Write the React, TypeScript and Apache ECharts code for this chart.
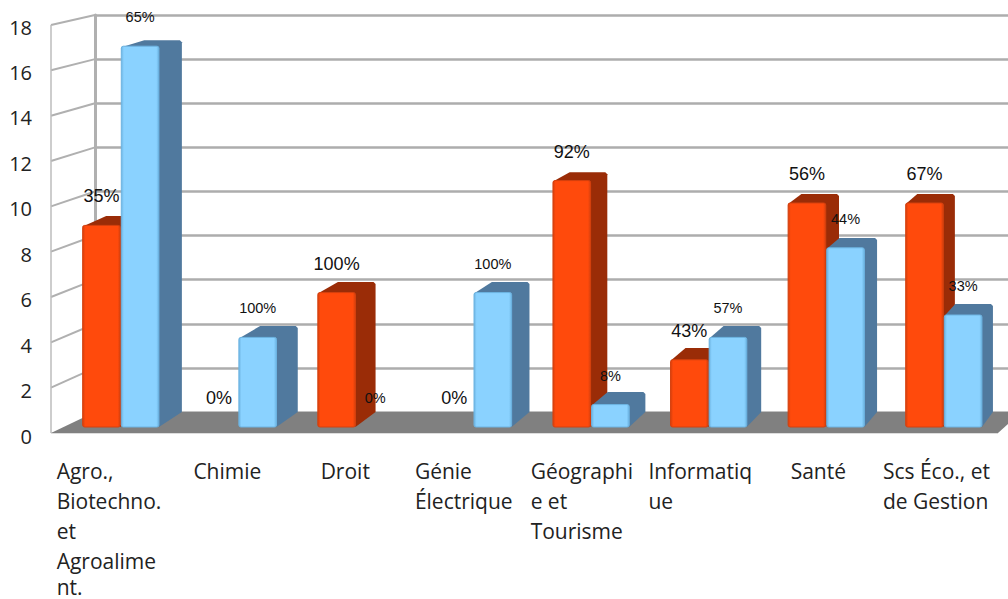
import React, { useEffect, useRef } from "react";
import * as echarts from "echarts";

const categories = [
  "Agro.,\nBiotechno.\net\nAgroalime\nnt.",
  "Chimie",
  "Droit",
  "Génie\nÉlectrique",
  "Géographi\ne et\nTourisme",
  "Informatiq\nue",
  "Santé",
  "Scs Éco., et\nde Gestion",
];
const redValues = [9, 0, 6, 0, 11, 3, 10, 10];
const blueValues = [17, 4, 0, 6, 1, 4, 8, 5];
const redPercents = ["35%", "0%", "100%", "0%", "92%", "43%", "56%", "67%"];
const bluePercents = ["65%", "100%", "0%", "100%", "8%", "57%", "44%", "33%"];
const yTicks = [0, 2, 4, 6, 8, 10, 12, 14, 16, 18];

const LABEL_FONT = '"Open Sans"';
const LABEL_SIZE = 21;

function measure(text: string) {
  const ctx = document.createElement("canvas").getContext("2d")!;
  ctx.font = `${LABEL_SIZE}px ${LABEL_FONT}`;
  return Math.ceil(ctx.measureText(text).width);
}

const rich: Record<string, any> = {};
categories.forEach((c, i) => {
  const base = {
    width: Math.max(...c.split("\n").map(measure)),
    align: "left",
    fontFamily: LABEL_FONT,
    fontSize: LABEL_SIZE,
    color: "#222222",
  };
  rich["c" + i] = { ...base, lineHeight: 30, height: 30 };
  rich["e" + i] = { ...base, lineHeight: 22, height: 22 };
});

const hGrad = (edge: string, main: string) =>
  new echarts.graphic.LinearGradient(0, 0, 1, 0, [
    { offset: 0, color: edge },
    { offset: 0.07, color: main },
    { offset: 0.93, color: main },
    { offset: 1, color: edge },
  ]);

function barRenderer(
  side: -1 | 1,
  percents: string[],
  main: string,
  edge: string,
  dark: string,
  labelSize: number
) {
  return (_p: any, api: any) => {
    const idx = api.value(0);
    const val = api.value(1);
    const [cx, top] = api.coord([idx, val]);
    const [, base] = api.coord([idx, 0]);
    const band = api.size([1, 0])[0];
    const w = band * 0.32;
    const x0 = side < 0 ? cx - w - 0.5 : cx + 0.5;
    const x1 = x0 + w;
    const cxBar = (x0 + x1) / 2;
    const children: any[] = [];
    if (val > 0) {
      const dx = 23 - ((x1 - 158) * 12) / 824;
      const dyTop = 6 + ((top - 46) * 7) / 381;
      const dyBase = 15;
      children.push({
        type: "polygon",
        shape: {
          points: [
            [x0, top + 1],
            [x0 + dx, top - dyTop],
            [x1 + dx - 2, top - dyTop],
            [x1 + dx, top - dyTop + 2],
            [x1 + dx, base - dyBase],
            [x1, base],
          ],
        },
        style: { fill: dark },
      });
      children.push({
        type: "rect",
        shape: { x: x0, y: top, width: w, height: base - top, r: 2 },
        style: { fill: hGrad(edge, main), stroke: edge, lineWidth: 1 },
      });
    }
    children.push({
      type: "text",
      style: {
        text: percents[idx],
        x: cxBar,
        y: top - 29,
        textAlign: "center",
        textVerticalAlign: "middle",
        fontFamily: '"Liberation Sans"',
        fontSize: labelSize,
        fill: "#111",
      },
    });
    return { type: "group", children };
  };
}

function wallRenderer(_p: any, api: any) {
  const v = api.value(1);
  const [x, y] = api.coord([0, v]);
  const backX = x + 44;
  const backY = 412 + ((y - 433) * 397) / 408;
  const lineCol = "#b0b0b0";
  const children: any[] = [];
  if (v === 0) {
    children.push({
      type: "line",
      shape: { x1: x, y1: y, x2: 998, y2: y },
      style: { stroke: "#bbbbbb", lineWidth: 1 },
    });
    children.push({
      type: "polygon",
      shape: {
        points: [
          [x, y],
          [backX, backY],
          [1008, backY],
          [1008, y - 9],
          [998, y],
        ],
      },
      style: { fill: "#808080" },
    });
  } else {
    children.push({
      type: "line",
      shape: { x1: x, y1: y, x2: backX, y2: backY },
      style: { stroke: lineCol, lineWidth: 2 },
    });
  }
  if (v === 18) {
    const [, y0] = api.coord([0, 0]);
    children.push({
      type: "line",
      shape: { x1: x, y1: y, x2: x, y2: y0 },
      style: { stroke: "#bdbdbd", lineWidth: 1.5 },
    });
  }
  return { type: "group", children };
}

export default function App() {
  const ref = useRef<HTMLDivElement>(null);
  useEffect(() => {
    document.body.style.margin = "0";
    document.body.style.overflow = "hidden";
    const chart = echarts.init(ref.current!, undefined, { renderer: "svg" });
    const hiddenY = { type: "value", min: 0, max: 18, interval: 2, show: false, splitLine: { show: false } };
    chart.setOption({
      animation: false,
      backgroundColor: "#ffffff",
      grid: [
        // axis labels plane
        { left: 50, top: 27, width: 946, height: 409, outerBoundsMode: "none" },
        // back wall plane
        { left: 95, top: 15, width: 913, height: 397, outerBoundsMode: "none" },
        // left wall / floor front edge plane
        { left: 51, top: 25, width: 957, height: 408, outerBoundsMode: "none" },
        // bars plane
        { left: 62, top: 23.8, width: 940.6, height: 403.2, outerBoundsMode: "none" },
      ],
      xAxis: [
        {
          gridIndex: 0,
          type: "category",
          data: categories,
          axisLine: { show: false },
          axisTick: { show: false },
          axisLabel: {
            interval: 0,
            margin: 19.5,
            hideOverlap: false,
            formatter: (value: string) => {
              const i = categories.indexOf(value);
              return value
                .split("\n")
                .map((l, n) => `{${n === 4 ? "e" : "c"}${i}|${l}}`)
                .join("\n");
            },
            rich,
          },
        },
        { gridIndex: 1, type: "value", min: 0, max: 1, show: false, splitLine: { show: false } },
        { gridIndex: 2, type: "value", min: 0, max: 1, show: false, splitLine: { show: false } },
        { gridIndex: 3, type: "category", data: categories, show: false },
      ],
      yAxis: [
        {
          gridIndex: 0,
          type: "value",
          min: 0,
          max: 18,
          interval: 2,
          axisLine: { show: false },
          axisTick: { show: false },
          splitLine: { show: false },
          axisLabel: {
            margin: 18,
            fontFamily: LABEL_FONT,
            fontSize: 20,
            color: "#222222",
          },
        },
        {
          gridIndex: 1,
          type: "value",
          min: 0,
          max: 18,
          interval: 2,
          axisLine: { show: true, lineStyle: { color: "#b0b0b0", width: 3 } },
          axisTick: { show: false },
          axisLabel: { show: false },
          splitLine: { show: true, lineStyle: { color: "#adadad", width: 2.5 } },
        },
        { ...hiddenY, gridIndex: 2 },
        { ...hiddenY, gridIndex: 3 },
      ],
      series: [
        {
          type: "custom",
          xAxisIndex: 2,
          yAxisIndex: 2,
          z: 2,
          clip: false,
          renderItem: wallRenderer,
          data: yTicks.map((t) => [0, t]),
        },
        {
          type: "custom",
          name: "Rouge",
          xAxisIndex: 3,
          yAxisIndex: 3,
          z: 3,
          clip: false,
          renderItem: barRenderer(-1, redPercents, "#FF4A0C", "#D5400E", "#9A2C07", 18),
          data: redValues.map((v, i) => [i, v]),
        },
        {
          type: "custom",
          name: "Bleu",
          xAxisIndex: 3,
          yAxisIndex: 3,
          z: 4,
          clip: false,
          renderItem: barRenderer(1, bluePercents, "#8AD2FF", "#6DB4E2", "#50799E", 14.5),
          data: blueValues.map((v, i) => [i, v]),
        },
      ],
    });
    return () => chart.dispose();
  }, []);
  return <div ref={ref} style={{ width: 1008, height: 599 }} />;
}
